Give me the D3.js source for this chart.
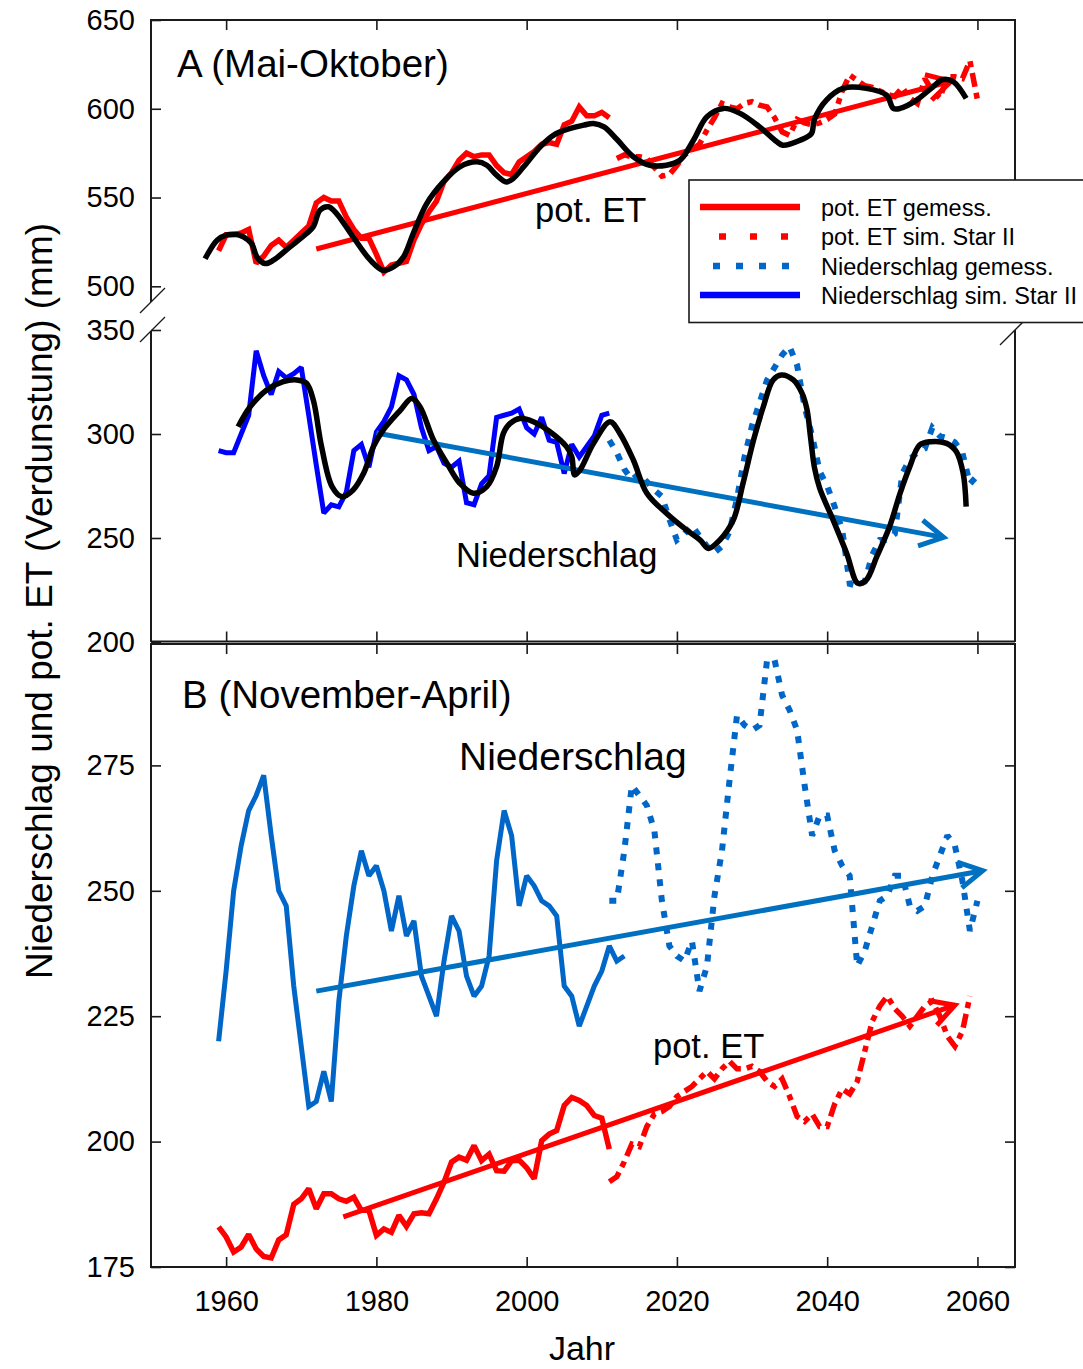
<!DOCTYPE html>
<html><head><meta charset="utf-8">
<script src="https://cdn.jsdelivr.net/npm/d3@7"></script>
<style>
body{margin:0;background:#fff}
svg{display:block}
text{font-family:"Liberation Sans",Arial,Helvetica,sans-serif;fill:#000}
</style>
</head><body>
<svg id="c" width="1083" height="1369"></svg>
<script>
// ---------------- DATA ----------------
const xTicks = [1960, 1980, 2000, 2020, 2040, 2060];
const yTicksAtop = [500, 550, 600, 650];
const yTicksAlow = [200, 250, 300, 350];
const yTicksB = [175, 200, 225, 250, 275];

// Panel A (Mai-Oktober): pot. ET
const etA_gemessStart = 1959;
const etA_gemess = [520,529,529,530,532,513,517,523,526,522,526,530,534,547,550,548,548,539,532,527,527,518,508,512,513,514,526,535,542,548,559,564,571,575,573,574,574,568,564,563,570,573,576,580,581,580,591,593,601,596,596,598,595];
const etA_simStart = 2012;
const etA_sim = [572,574,573,573,572,567,562,563,568,574,577,580,588,595,603,601,600,603,604,602,601,595,587,585,594,592,591,592,594,597,610,619,616,613,612,610,608,607,612,606,603,617,610,606,618,618,617,627,605];
const etA_smooth = [[1957.2,515.5],[1958.8,526],[1960,528.8],[1961.2,529.3],[1962.3,527.8],[1963.4,524],[1964.1,516.5],[1965.2,512.8],[1966.3,514.7],[1968.5,522.2],[1970.7,529.7],[1971.6,533.5],[1972.5,542.9],[1973.6,544.8],[1974.7,541],[1976.9,527.8],[1979.2,514.7],[1980.9,509],[1982.3,511],[1983.6,516.5],[1984.9,529.7],[1986.7,546.6],[1988.9,558.8],[1991.1,567.3],[1993.4,570.1],[1994.7,568.2],[1996,562.6],[1997.3,558.8],[1998.2,560.7],[1999.6,567.3],[2001.8,578.6],[2003.6,585.2],[2005.8,588.9],[2007.6,590.8],[2008.9,591.7],[2010.3,589.8],[2012,582.8],[2014.2,573],[2016.4,568.2],[2018.6,568.2],[2020.4,571],[2022.2,582.3],[2024,595.5],[2026.2,600.2],[2028.4,597.4],[2031,589.8],[2033.3,581.4],[2034.1,579.5],[2036.4,582.3],[2037.9,586],[2038.3,594],[2039.9,604.9],[2042.1,611.5],[2045.2,611.5],[2047.9,607.7],[2048.8,600.2],[2049.7,600.2],[2051.9,604.9],[2054.1,612.4],[2055.4,616.5],[2056.8,615.2],[2058.5,605.8]];
const etA_trend = [[1972, 521], [2056.5, 615.5]];

// Panel A: Niederschlag
const prA_gemessStart = 1959;
const prA_gemess = [292,291,291,300,309,340,328,319,330,327,329,332,309,285,262,266,265,272,292,295,284,301,306,313,328,326,319,303,292,294,286,284,287,267,266,276,280,308,309,310,312,303,300,308,297,296,281,295,289,294,299,309,310];
const prA_simStart = 2011;
const prA_sim = [297,291,283,278,281,277,273,270,259,249,252,256,251,246,243,246,253,269,289,304,315,326,332,338,342,333,313,299,282,275,265,254,228,227,229,242,249,249,252,281,288,291,293,303,299,298,296,291,276,280];
const prA_smooth = [[1961.6,303.5],[1963.2,313.1],[1965.4,321.2],[1967.6,325.2],[1969.4,326],[1970.7,324.4],[1971.6,316.3],[1972.7,293.9],[1974.1,274.7],[1975.4,269.9],[1976.9,273.1],[1978.3,281.1],[1979.6,293.9],[1980.9,301.9],[1983.2,311.5],[1984.7,317.1],[1985.8,313.1],[1987.6,297.1],[1989.4,285.9],[1991.1,276.3],[1992.9,271.5],[1994.7,274.7],[1996,284.3],[1996.9,300.3],[1997.8,305.1],[1999.1,307.5],[2000.9,305.9],[2003.1,301.1],[2005.3,293.9],[2006,289.1],[2006.4,280.3],[2007.1,282.7],[2008.9,295.5],[2011.1,305.9],[2012.4,300.3],[2014.2,287.5],[2016,271.5],[2018.6,261.9],[2021.3,253.8],[2023.1,249],[2024.2,245],[2025.7,249],[2027.5,258.6],[2028.8,276.3],[2030.2,297.1],[2031.5,313.1],[2032.8,326],[2033.9,328.4],[2035.5,326],[2036.6,320],[2037.3,312],[2037.8,298],[2038.3,284],[2039,274],[2040.8,258.6],[2042.6,242.6],[2044.1,228.2],[2045.2,229.8],[2046.6,241],[2048.3,255.4],[2049.7,271.5],[2051,284.3],[2052.3,294.7],[2053.7,296.3],[2055.9,295.5],[2057.2,291.5],[2058.1,281.1],[2058.5,265.1]];
const prA_trend = [[1980, 300.5], [2055.5, 250.3]];

// Panel B (November-April)
const prB_gemessStart = 1959;
const prB_gemess = [220,234,250,259,266,269,273,261,250,247,231,219,207,208,214,208,228,241,251,258,253,255,250,242,249,241,244,233,229,225,236,245,242,233,229,231,237,256,266,261,247,253,251,248,247,245,231,229,223,227,231,234,239,236,237];
const prB_simStart = 2011;
const prB_sim = [248,248,258,271,269,267,262,248,239,237,236,240,230,235,249,258,272,285,283,282,283,296,296,289,286,282,271,261,265,265,258,255,253,235,238,243,248,249,253,253,247,246,247,253,257,261,259,252,242,248];
const prB_trend = [[1972, 230], [2060.7, 254]];

const etB_gemessStart = 1959;
const etB_gemess = [183,181,178,179,181.5,178.6,177.1,176.8,180.4,181.4,187.5,188.6,190.6,186.6,189.6,189.6,188.6,188.1,188.9,186.3,186.3,181.3,182.6,181.9,185.3,183.1,185.6,185.8,185.6,188.6,191.9,195.9,196.9,196.3,199.2,196.2,197.5,194.2,194.1,196.2,196.3,194.8,192.6,200.2,201.5,202.2,207.2,208.8,208.2,207.2,205.2,204.7,198.5];
const etB_simStart = 2011;
const etB_sim = [192,193,196,199.5,199,203,205.5,206,207,209,210,211,212.5,214,212.5,214.5,216,214.5,214.5,215,214,212,211,212.5,209,205,204,205.5,203,203,207.5,210.5,209.5,212,218,224,227,229,226.5,225,223,225,227,228,225,221,219,222,229];
const etB_trend = [[1975.6, 185], [2057, 227.2]];

const legendItems = [
  {label: "pot. ET gemess.", color: "#ff0000", dash: null, off: 0},
  {label: "pot. ET sim. Star II", color: "#ff0000", dash: "7,24", off: 12},
  {label: "Niederschlag gemess.", color: "#0066c8", dash: "7,16", off: 10},
  {label: "Niederschlag sim. Star II", color: "#0000ff", dash: null, off: 0}
];

// ---------------- STYLE ----------------
const RED = "#ff0000", BLUE = "#0000ff", MBLUE = "#0066c8", TBLUE = "#0070c0";
const DASH_ET = "14,6,6,6", DASH_PR = "7,9";

// ---------------- SCALES ----------------
const svg = d3.select("#c");
const x = d3.scaleLinear().domain([1950, 2065]).range([151, 1015]);
const yAt = d3.scaleLinear().domain([500, 650]).range([286.3, 20]);
const yAl = d3.scaleLinear().domain([200, 350]).range([642, 330]);
const yB = d3.scaleLinear().domain([175, 300]).range([1267, 640]);

const series = (start, vals) => vals.map((v, i) => [start + i, v]);

function drawLine(data, y, o) {
  const gen = d3.line().x(d => x(d[0])).y(d => y(d[1]));
  if (o.curve) gen.curve(o.curve);
  svg.append("path").attr("d", gen(data)).attr("fill", "none")
    .attr("stroke", o.color).attr("stroke-width", o.width)
    .attr("stroke-dasharray", o.dash || null)
    .attr("stroke-linejoin", o.join || "miter").attr("stroke-miterlimit", 2)
    .attr("stroke-linecap", o.cap || "butt");
}
function arrow(pts, y, color, width) {
  const x0 = x(pts[0][0]), y0 = y(pts[0][1]), x1 = x(pts[1][0]), y1 = y(pts[1][1]);
  svg.append("line").attr("x1", x0).attr("y1", y0).attr("x2", x1).attr("y2", y1)
    .attr("stroke", color).attr("stroke-width", width);
  const ang = Math.atan2(y1 - y0, x1 - x0), L = 27, a = 29 * Math.PI / 180;
  const p = [[x1 - L * Math.cos(ang - a), y1 - L * Math.sin(ang - a)], [x1, y1],
             [x1 - L * Math.cos(ang + a), y1 - L * Math.sin(ang + a)]];
  svg.append("path").attr("d", d3.line()(p)).attr("fill", "none")
    .attr("stroke", color).attr("stroke-width", width).attr("stroke-linejoin", "miter");
}

// ---------------- AXES ----------------
const FR = "#1a1a1a";
function frameLine(x1, y1, x2, y2, w) {
  svg.append("line").attr("x1", x1).attr("y1", y1).attr("x2", x2).attr("y2", y2)
    .attr("stroke", FR).attr("stroke-width", w || 2);
}
function styleAxis(g, fs) {
  g.select(".domain").remove();
  g.selectAll(".tick line").attr("stroke", FR).attr("stroke-width", 1.6);
  g.selectAll(".tick text").attr("font-size", fs).attr("fill", "#000")
    .attr("font-family", "Liberation Sans, Arial, sans-serif");
}
const L0 = 151, R0 = 1015;
// Panel A top segment
svg.append("g").attr("transform", `translate(${L0},0)`)
  .call(d3.axisLeft(yAt).tickValues(yTicksAtop).tickSizeInner(-10).tickSizeOuter(0).tickPadding(16).tickFormat(d3.format("d")))
  .call(g => styleAxis(g, 29));
svg.append("g").attr("transform", `translate(${R0},0)`)
  .call(d3.axisRight(yAt).tickValues([550, 600]).tickSizeInner(-10).tickSizeOuter(0).tickFormat(""))
  .call(g => styleAxis(g, 29));
// Panel A lower segment
svg.append("g").attr("transform", `translate(${L0},0)`)
  .call(d3.axisLeft(yAl).tickValues(yTicksAlow).tickSizeInner(-10).tickSizeOuter(0).tickPadding(16).tickFormat(d3.format("d")))
  .call(g => styleAxis(g, 29));
svg.append("g").attr("transform", `translate(${R0},0)`)
  .call(d3.axisRight(yAl).tickValues([250, 300]).tickSizeInner(-10).tickSizeOuter(0).tickFormat(""))
  .call(g => styleAxis(g, 29));
// Panel B
svg.append("g").attr("transform", `translate(${L0},0)`)
  .call(d3.axisLeft(yB).tickValues(yTicksB).tickSizeInner(-10).tickSizeOuter(0).tickPadding(16).tickFormat(d3.format("d")))
  .call(g => styleAxis(g, 29));
svg.append("g").attr("transform", `translate(${R0},0)`)
  .call(d3.axisRight(yB).tickValues(yTicksB).tickSizeInner(-10).tickSizeOuter(0).tickFormat(""))
  .call(g => styleAxis(g, 29));
// x ticks
svg.append("g").attr("transform", "translate(0,20)")
  .call(d3.axisTop(x).tickValues(xTicks).tickSizeInner(-10).tickSizeOuter(0).tickFormat(""))
  .call(g => styleAxis(g, 29));
svg.append("g").attr("transform", "translate(0,641.5)")
  .call(d3.axisBottom(x).tickValues(xTicks).tickSizeInner(-10).tickSizeOuter(0).tickFormat(""))
  .call(g => styleAxis(g, 29));
svg.append("g").attr("transform", "translate(0,644)")
  .call(d3.axisTop(x).tickValues(xTicks).tickSizeInner(-10).tickSizeOuter(0).tickFormat(""))
  .call(g => styleAxis(g, 29));
svg.append("g").attr("transform", "translate(0,1267)")
  .call(d3.axisBottom(x).tickValues(xTicks).tickSizeInner(-10).tickSizeOuter(0).tickPadding(23).tickFormat(d3.format("d")))
  .call(g => styleAxis(g, 29));

// frame lines
frameLine(L0, 20, R0, 20);
frameLine(L0, 19, L0, 302);
frameLine(R0, 19, R0, 302);
frameLine(L0, 331, L0, 642);
frameLine(R0, 330, R0, 642);
frameLine(L0, 641.5, R0, 641.5);
frameLine(L0, 644, R0, 644);
frameLine(L0, 643, L0, 1268);
frameLine(R0, 643, R0, 1268);
frameLine(L0, 1267, R0 + 1, 1267);
// break marks
frameLine(140, 313, 165, 288, 1.3);
frameLine(140, 342, 165, 317, 1.3);
frameLine(1003, 317, 1027, 293, 1.3);
frameLine(1000, 345, 1025, 320, 1.3);

// ---------------- PANEL A ----------------
arrow(etA_trend, yAt, RED, 5);
drawLine(series(etA_gemessStart, etA_gemess), yAt, {color: RED, width: 5.5});
drawLine(series(etA_simStart, etA_sim), yAt, {color: RED, width: 5.5, dash: DASH_ET});
drawLine(etA_smooth, yAt, {color: "#000", width: 5.5, curve: d3.curveCatmullRom.alpha(0.5), join: "round"});

drawLine(series(prA_gemessStart, prA_gemess), yAl, {color: BLUE, width: 5});
drawLine(series(prA_simStart, prA_sim), yAl, {color: MBLUE, width: 6, dash: DASH_PR});
arrow(prA_trend, yAl, TBLUE, 5);
drawLine(prA_smooth, yAl, {color: "#000", width: 5.5, curve: d3.curveCatmullRom.alpha(0.5), join: "round"});

// ---------------- PANEL B ----------------
drawLine(series(prB_gemessStart, prB_gemess), yB, {color: MBLUE, width: 5});
drawLine(series(prB_simStart, prB_sim), yB, {color: MBLUE, width: 6, dash: DASH_PR});
arrow(prB_trend, yB, TBLUE, 5);
drawLine(series(etB_gemessStart, etB_gemess), yB, {color: RED, width: 5.5});
drawLine(series(etB_simStart, etB_sim), yB, {color: RED, width: 5.5, dash: DASH_ET});
arrow(etB_trend, yB, RED, 5);

// ---------------- TEXT ----------------
function txt(s, xx, yy, fs, anchor) {
  return svg.append("text").attr("x", xx).attr("y", yy).attr("font-size", fs)
    .attr("text-anchor", anchor || "start").text(s);
}
txt("A (Mai-Oktober)", 177, 77, 38.5);
txt("B (November-April)", 182, 708, 38.5);
txt("pot. ET", 535, 222, 34.5);
txt("Niederschlag", 456, 567, 34.5);
txt("Niederschlag", 459, 770, 39);
txt("pot. ET", 653, 1058, 34.5);
txt("Jahr", 582, 1360, 34, "middle");
svg.append("text").attr("transform", "translate(52,601) rotate(-90)")
  .attr("font-size", 37).attr("text-anchor", "middle")
  .text("Niederschlag und pot. ET (Verdunstung) (mm)");

// ---------------- LEGEND ----------------
const lg = svg.append("g");
lg.append("rect").attr("x", 689).attr("y", 180).attr("width", 420).attr("height", 142.5)
  .attr("fill", "#fff").attr("stroke", FR).attr("stroke-width", 1.6);
const rowY = [207, 236.5, 266, 295];
legendItems.forEach((it, i) => {
  lg.append("line").attr("x1", 700).attr("x2", 800).attr("y1", rowY[i]).attr("y2", rowY[i])
    .attr("stroke", it.color).attr("stroke-width", 6.5)
    .attr("stroke-dasharray", it.dash).attr("stroke-dashoffset", it.off);
  lg.append("text").attr("x", 821).attr("y", rowY[i] + 8.5).attr("font-size", 23.5).text(it.label);
});
</script>
</body></html>
